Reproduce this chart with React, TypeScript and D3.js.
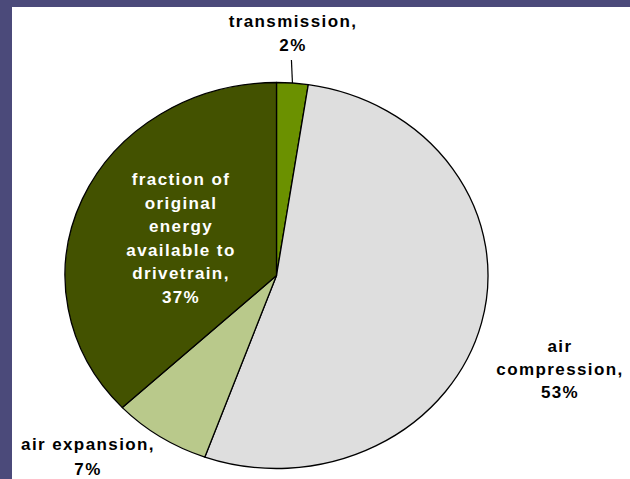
import { useEffect, useRef } from 'react';
import * as d3 from 'd3';

const labels = ['transmission', 'air compression', 'air expansion', 'fraction of original energy available to drivetrain'];
const values = [2.4, 53.1, 7.5, 37.0];
const shownPct = ['2%', '53%', '7%', '37%'];
const colors = ['#6b9100', '#dedede', '#b9c98b', '#435200'];

const W = 630;
const H = 479;

export default function App() {
  const ref = useRef<SVGSVGElement>(null);

  useEffect(() => {
    const svg = d3.select(ref.current);
    svg.selectAll('*').remove();

    // slide background: blue band top and left
    svg.append('rect').attr('width', W).attr('height', H).attr('fill', '#4b4a7a');
    svg.append('rect').attr('x', 12).attr('y', 7).attr('width', W - 12).attr('height', H - 7).attr('fill', '#ffffff');

    const cx = 276.5, cy = 275.5, rx = 211.5, ry = 193;

    const pie = d3.pie<number>().sort(null).value(d => d);
    const arcs = pie(values);
    const arc = d3.arc<d3.PieArcDatum<number>>().innerRadius(0).outerRadius(rx);

    const g = svg.append('g').attr('transform', `translate(${cx},${cy}) scale(1,${ry / rx})`);
    g.selectAll('path')
      .data(arcs)
      .join('path')
      .attr('d', arc)
      .attr('fill', (d, i) => colors[i])
      .attr('stroke', '#000')
      .attr('stroke-width', 1.3)
      .attr('vector-effect', 'non-scaling-stroke')
      .attr('stroke-linejoin', 'round');

    // leader line for transmission
    const a0 = (arcs[0].startAngle + arcs[0].endAngle) / 2;
    const lx = cx + Math.sin(a0) * rx;
    const ly = cy - Math.cos(a0) * ry;
    svg.append('line')
      .attr('x1', lx).attr('y1', ly)
      .attr('x2', lx - 1).attr('y2', 60)
      .attr('stroke', '#000').attr('stroke-width', 1.2);

    const font = '"Liberation Sans", Arial, sans-serif';
    const addText = (lines: string[], x: number, y0: number, fill: string, step: number) => {
      lines.forEach((t, i) => {
        svg.append('text')
          .attr('x', x)
          .attr('y', y0 + i * step)
          .attr('text-anchor', 'middle')
          .attr('font-family', font)
          .attr('font-weight', 'bold')
          .attr('font-size', 17)
          .attr('letter-spacing', 1.4)
          .attr('fill', fill)
          .text(t);
      });
    };

    addText(['transmission,', shownPct[0]], 293, 27, '#000', 24);
    addText(['air', 'compression,', shownPct[1]], 560, 352, '#000', 23);
    addText(['air expansion,', shownPct[2]], 88, 450, '#000', 24.5);
    addText(['fraction of', 'original', 'energy', 'available to', 'drivetrain,', shownPct[3]], 181, 185, '#fff', 23.6);
  }, []);

  return (
    <svg
      ref={ref}
      width={W}
      height={H}
      style={{ position: 'absolute', left: 0, top: 0, display: 'block' }}
    />
  );
}
